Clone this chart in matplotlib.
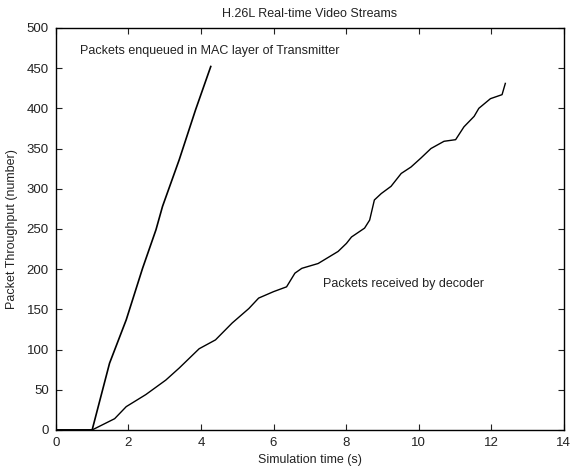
import matplotlib
matplotlib.use('Agg')
import matplotlib.pyplot as plt

plt.rcParams['font.family'] = ['Liberation Sans', 'DejaVu Sans']

# packets enqueued in MAC layer (time s, count)
mac_t = [0, 1.0, 1.48, 1.94, 2.39, 2.76, 2.94, 3.40, 3.85, 4.27]
mac_n = [0, 0, 83, 137, 201, 249, 278, 336, 398, 452]

# packets received by decoder
dec_t = [0, 1.0, 1.62, 1.94, 2.48, 3.03, 3.40, 3.95, 4.40, 4.86, 5.32, 5.59, 6.00,
         6.36, 6.59, 6.78, 7.23, 7.78, 8.01, 8.15, 8.51, 8.65, 8.78, 8.97, 9.24,
         9.52, 9.79, 10.06, 10.34, 10.70, 11.02, 11.25, 11.53, 11.66, 11.98,
         12.30, 12.39]
dec_n = [0, 0, 14, 29, 44, 62, 77, 101, 112, 133, 151, 164, 172,
         178, 195, 201, 207, 222, 232, 240, 251, 261, 286, 294, 303,
         319, 327, 338, 350, 359, 361, 377, 390, 400, 412,
         417, 431]

fig = plt.figure(figsize=(5.7, 4.73), dpi=100)
ax = fig.add_axes([0.098, 0.091, 0.891, 0.85])

ax.plot(mac_t, mac_n, color='black', linewidth=1.2)
ax.plot(dec_t, dec_n, color='black', linewidth=1.0)

ax.text(0.66, 471, 'Packets enqueued in MAC layer of Transmitter', fontsize=9,
        color='#222222', va='center', ha='left')
ax.text(7.37, 182, 'Packets received by decoder', fontsize=9,
        color='#222222', va='center', ha='left')

ax.set_xlim(0, 14)
ax.set_ylim(0, 500)
ax.set_xticks(range(0, 15, 2))
ax.set_yticks(range(0, 501, 50))
ax.tick_params(direction='in', top=True, right=True, labelsize=9.5, colors='#222222',
               length=4, pad=5)
for s in ax.spines.values():
    s.set_linewidth(1.0)

ax.set_title('H.26L Real-time Video Streams', fontsize=9, color='#222222', pad=8)
ax.set_xlabel('Simulation time (s)', fontsize=9, color='#222222', labelpad=4)
ax.set_ylabel('Packet Throughput (number)', fontsize=9, color='#222222', labelpad=6)

fig.savefig('out.png', dpi=100)
